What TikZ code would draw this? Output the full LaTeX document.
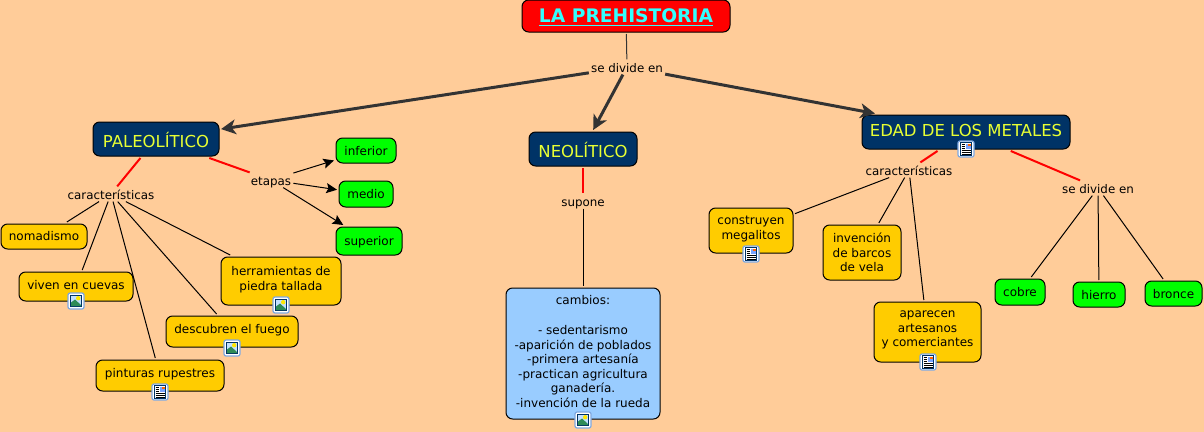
\documentclass[tikz,border=0pt]{standalone}
\usepackage{fontspec}
\setmainfont{DejaVu Sans}
\usepackage{xcolor}
\usetikzlibrary{arrows.meta}
\definecolor{paper}{HTML}{FFCC99}
\definecolor{navy}{HTML}{003366}
\definecolor{amber}{HTML}{FFCC00}
\definecolor{leaf}{HTML}{00FF00}
\definecolor{sky}{HTML}{99CCFF}
\definecolor{lime}{HTML}{E8FF33}
\definecolor{aqua}{HTML}{33FFFF}
\definecolor{ink}{HTML}{333333}
\definecolor{frameblue}{HTML}{7FA8E0}
\definecolor{hill}{HTML}{2E8B57}
\tikzset{
  sz/.style 2 args={minimum width=#1*0.75pt, minimum height=#2*0.75pt},
  cbox/.style={draw=black, line width=0.75pt, rounded corners=5pt, inner sep=0pt, outer sep=1.5pt, align=center, font=\fontsize{9}{10.9}\selectfont},
  titlebox/.style={cbox, fill=red, text=aqua, text height=11.5pt, text depth=1.5pt, font=\fontsize{14}{15}\selectfont\bfseries},
  eraboxx/.style={cbox, fill=navy, text=lime, font=\fontsize{12.35}{14}\selectfont},
  traitbox/.style={cbox, fill=amber},
  leafbox/.style={cbox, fill=leaf, text height=8.5pt, text depth=1.5pt},
  notebox/.style={cbox, fill=sky},
  linkw/.style={inner xsep=1.5pt, inner ysep=0.5pt, text height=9pt, text depth=1pt, font=\fontsize{8.9}{10.9}\selectfont},
  thin link/.style={draw=black, line width=0.75pt},
  red link/.style={draw=red, line width=1.5pt},
  thick arrow/.style={draw=ink, line width=2.25pt, -{Stealth[length=11pt, width=11pt, inset=3pt]}},
  small arrow/.style={draw=black, line width=0.75pt, -{Stealth[length=8pt, width=7.5pt, inset=1.5pt]}},
  pics/iconframe/.style={code={
    \draw[draw=frameblue, fill=white, rounded corners=1.5pt, line width=0.9pt] (-8,-8) rectangle (8,8);
  }},
  pics/imgicon/.style={code={
    \pic {iconframe};
    \draw[draw=navy, fill=sky!60!white, line width=0.9pt] (-5.5,-5.5) rectangle (5.5,5.5);
    \fill[yellow!90!orange] (2.2,-2.8) circle (2.2);
    \fill[hill] (-5,5) -- (-5,1.5) -- (-1,-1.5) -- (5,4) -- (5,5) -- cycle;
  }},
  pics/docicon/.style={code={
    \pic {iconframe};
    \draw[draw=navy, fill=white, line width=0.75pt] (-5.5,-6.5) rectangle (5.5,6.5);
    \fill[sky!80!blue] (-0.5,-5.5) rectangle (4.5,-0.5);
    \fill[orange!80!red] (2,-5.5) rectangle (4.5,-3.5);
    \foreach \yy in {-4.5,-2.5,-0.5} \draw[black, line width=0.7pt] (-4.5,\yy) -- (-1.5,\yy);
    \foreach \yy in {1.5,3.2,5} \draw[black, line width=0.7pt] (-4.5,\yy) -- (4.5,\yy);
  }}
}
\begin{document}
\begin{tikzpicture}[x=0.75pt, y=-0.75pt]
\useasboundingbox[fill=paper] (0,0) rectangle (1204,432);
% title
\node[titlebox, sz={208}{32}] (title) at (626,16) {\underline{LA PREHISTORIA}};
\node[linkw] (divide) at (627,67) {se divide en};
% periods
\node[eraboxx, sz={126}{34}, text height=12.5pt] (paleo) at (156,139) {PALEOLÍTICO};
\node[eraboxx, sz={108}{34}, text height=12.5pt] (neo) at (583,149) {NEOLÍTICO};
\node[eraboxx, sz={208}{34}, text depth=3pt] (metal) at (966,132) {EDAD DE LOS METALES};
\coordinate (metaltip) at (875,113.5);
% paleolitico
\node[linkw] (carpaleo) at (111,194) {características};
\node[linkw] (etapas) at (271,180) {etapas};
\node[leafbox, sz={60}{25}] (inferior) at (366,150.5) {inferior};
\node[leafbox, sz={54}{26}] (medio) at (366,194) {medio};
\node[leafbox, sz={66}{28}] (superior) at (369,241) {superior};
\node[traitbox, sz={86}{25}] (nomad) at (44,236.5) {nomadismo};
\node[traitbox, sz={114}{29}, text depth=3pt] (cuevas) at (76,286.5) {viven en cuevas};
\node[traitbox, sz={120}{48}, text depth=4pt] (tools) at (281,281) {herramientas de\\piedra tallada};
\node[traitbox, sz={132}{31}, text depth=4pt] (fuego) at (232,331.5) {descubren el fuego};
\node[traitbox, sz={128}{31}, text depth=4pt] (rupestre) at (160,375.5) {pinturas rupestres};
% neolitico
\node[linkw] (supone) at (583,201) {supone};
\node[notebox, sz={154}{131}, text depth=3.2pt] (cambios) at (583,353.5) {cambios:\\[11.5pt]- sedentarismo\\-aparición de poblados\\-primera artesanía\\-practican agricultura\\ganadería.\\-invención de la rueda};
% metales
\node[linkw] (carmetal) at (909,170) {características};
\node[linkw] (divmetal) at (1098,188) {se divide en};
\node[traitbox, sz={84}{45}, text depth=4pt] (megal) at (751,230.5) {construyen\\megalitos};
\node[traitbox, sz={78}{55}] (barcos) at (862,252.5) {invención\\de barcos\\de vela};
\node[traitbox, sz={107}{60}, text depth=4.5pt] (artes) at (927.5,332) {aparecen\\artesanos\\y comerciantes};
\node[leafbox, sz={50}{26}] (cobre) at (1020,292) {cobre};
\node[leafbox, sz={52}{25}] (hierro) at (1099,294.5) {hierro};
\node[leafbox, sz={57}{25}] (bronce) at (1173.5,293.5) {bronce};
% connectors
\draw[thin link, draw=ink] (title) -- (divide);
\draw[thick arrow] (divide) -- (paleo);
\draw[thick arrow] (divide) -- (neo);
\draw[thick arrow] (divide) -- (metaltip);
\draw[red link] (paleo) -- (carpaleo);
\draw[red link] (paleo) -- (etapas);
\draw[red link] (neo) -- (supone);
\draw[red link] (metal) -- (carmetal);
\draw[red link] (metal) -- (divmetal);
\foreach \a in {inferior,medio,superior} \draw[small arrow] (etapas) -- (\a);
\foreach \a in {nomad,cuevas,tools,fuego,rupestre} \draw[thin link] (carpaleo) -- (\a);
\draw[thin link] (supone) -- (cambios);
\foreach \a in {megal,barcos,artes} \draw[thin link] (carmetal) -- (\a);
\foreach \a in {cobre,hierro,bronce} \draw[thin link] (divmetal) -- (\a);
% icons
\foreach \p in {(76,301),(281,305),(232,348),(583,420)} \pic at \p {imgicon};
\foreach \p in {(160,392),(966,149),(751,254),(928,362)} \pic at \p {docicon};
\end{tikzpicture}
\end{document}
